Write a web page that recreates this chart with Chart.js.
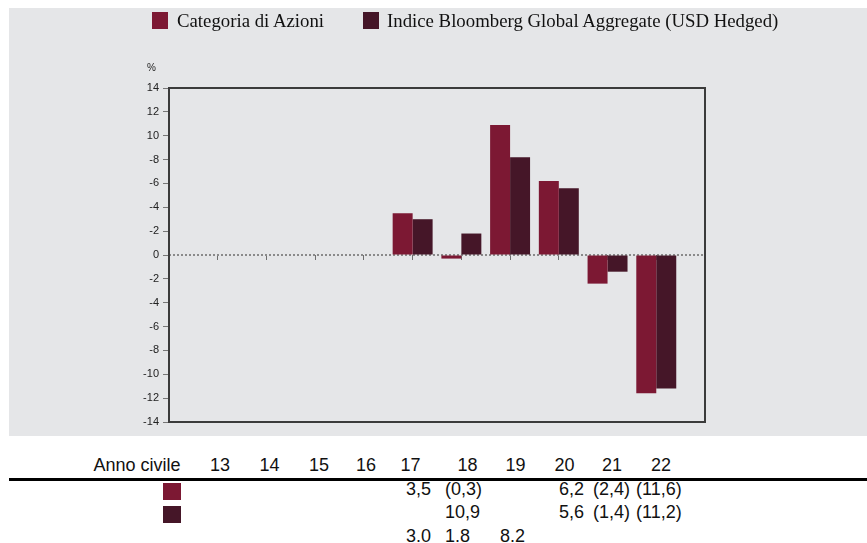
<!DOCTYPE html>
<html>
<head>
<meta charset="utf-8">
<script src="https://cdn.jsdelivr.net/npm/chart.js@4.4.1/dist/chart.umd.min.js"></script>
<style>
  body { margin: 0; width: 867px; height: 543px; position: relative; overflow: hidden; background: #fff;
         font-family: "Liberation Sans", Arial, sans-serif; color: #111; }
  #panel { position: absolute; left: 9px; top: 8px; width: 858px; height: 428px; background: #e5e6e8; }
  #c { position: absolute; left: 0; top: 0; }
  .sq { position: absolute; width: 16px; height: 17px; }
  .lg { position: absolute; top: 11px; font-family: "Liberation Serif", "Times New Roman", serif; font-size: 18.8px;
        line-height: 19px; white-space: nowrap; color: #111; }
  .pct { position: absolute; left: 147px; top: 62px; font-size: 10px; color: #222; }
  .hd { position: absolute; top: 456px; font-size: 18px; line-height: 18px; white-space: nowrap; transform: translateX(-50%); }
  .val { position: absolute; font-size: 18px; line-height: 18px; white-space: nowrap; }
  #rule { position: absolute; left: 9px; top: 478px; width: 858px; height: 3px; background: #000; }
</style>
</head>
<body>
<div id="panel"></div>
<canvas id="c" width="867" height="437"></canvas>
<div class="sq" style="left:152px; top:12px; background:#7c1833"></div>
<div class="lg" style="left:177px">Categoria di Azioni</div>
<div class="sq" style="left:363px; top:12px; background:#451628"></div>
<div class="lg" style="left:387px">Indice Bloomberg Global Aggregate (USD Hedged)</div>
<div class="pct">%</div>
<div id="rule"></div>
<div id="table"></div>
<script>
// anni (categorie)
const years = ['13', '14', '15', '16', '17', '18', '19', '20', '21', '22'];
const seriesNames = ['Categoria di Azioni', 'Indice Bloomberg Global Aggregate (USD Hedged)'];
const azioni = [null, null, null, null, 3.5, -0.3, 10.9, 6.2, -2.4, -11.6];
const indice = [null, null, null, null, 3.0, 1.8, 8.2, 5.6, -1.4, -11.2];
// etichette asse y, dall'alto verso il basso (come nell'originale)
const yTickLabels = ['14', '12', '10', '-8', '-6', '-4', '-2', '0', '-2', '-4', '-6', '-8', '-10', '-12', '-14'];
// righe della tabella sotto il grafico
const row1 = ['', '', '', '', '3,5', '(0,3)', '', '6,2', '(2,4)', '(11,6)'];
const row2 = ['', '', '', '', '', '10,9', '', '5,6', '(1,4)', '(11,2)'];
const row3 = ['', '', '', '', '3.0', '1.8', '8.2', '', '', ''];

const colors = ['#7c1833', '#451628'];

// posizioni colonne tabella
const headX = [220, 269.5, 319, 366, 410.5, 467.5, 515.5, 564.5, 612, 661];
const valX = [0, 0, 0, 0, 406, 445, 500, 559, 593, 636];

let tbl = document.getElementById('table');
let html = '<div class="hd" style="left:137px">Anno civile</div>';
years.forEach((y, i) => { html += '<div class="hd" style="left:' + headX[i] + 'px">' + y + '</div>'; });
[row1, row2, row3].forEach((row, r) => {
    row.forEach((v, i) => {
        if (v) html += '<div class="val" style="left:' + valX[i] + 'px; top:' + [480, 503, 527][r] + 'px">' + v + '</div>';
    });
});
html += '<div class="sq" style="left:163px; top:483px; width:18px; background:' + colors[0] + '"></div>';
html += '<div class="sq" style="left:163px; top:506px; width:18px; background:' + colors[1] + '"></div>';
tbl.innerHTML = html;

// linea dello zero tratteggiata + cornice dell'area del grafico
const framePlugin = {
    id: 'frame',
    beforeDatasetsDraw(chart) {
        const {ctx, chartArea: a} = chart;
        const y0 = Math.round(chart.scales.y.getPixelForValue(0));
        ctx.save();
        ctx.strokeStyle = '#8a8a8a';
        ctx.lineWidth = 2;
        ctx.setLineDash([2, 2]);
        ctx.beginPath();
        ctx.moveTo(a.left, y0);
        ctx.lineTo(a.right, y0);
        ctx.stroke();
        ctx.restore();
    },
    afterDatasetsDraw(chart) {
        const {ctx, chartArea: a} = chart;
        ctx.save();
        ctx.strokeStyle = '#3b3b3b';
        ctx.lineWidth = 2;
        ctx.strokeRect(a.left, a.top, a.right - a.left, a.bottom - a.top);
        ctx.restore();
    }
};

let ctx = document.getElementById('c');
let myChart = new Chart(ctx, {
    type: 'bar',
    data: {
        labels: [''].concat(years, ['']),
        datasets: [{
            label: seriesNames[0],
            data: [null].concat(azioni, [null]),
            backgroundColor: colors[0],
            categoryPercentage: 0.82,
            barPercentage: 1.0
        }, {
            label: seriesNames[1],
            data: [null].concat(indice, [null]),
            backgroundColor: colors[1],
            categoryPercentage: 0.82,
            barPercentage: 1.0
        }]
    },
    options: {
        responsive: false,
        animation: false,
        layout: { padding: { left: 0, top: 88, right: 162, bottom: 15 } },
        plugins: { legend: { display: false }, tooltip: { enabled: false } },
        scales: {
            x: {
                position: { y: 0 },
                offset: false,
                grid: { offset: false, drawOnChartArea: false, drawTicks: true, tickLength: 5, color: '#6f6f6f' },
                border: { display: false },
                ticks: { display: false }
            },
            y: {
                min: -14,
                max: 14,
                afterFit(s) { s.width = 169; },
                ticks: {
                    stepSize: 2,
                    padding: 4,
                    color: '#222',
                    font: { family: 'Liberation Sans', size: 11 },
                    callback: (v) => yTickLabels[(14 - v) / 2]
                },
                grid: { drawOnChartArea: false, tickLength: 6, color: '#777' },
                border: { display: false }
            }
        }
    },
    plugins: [framePlugin]
});
</script>
</body>
</html>
